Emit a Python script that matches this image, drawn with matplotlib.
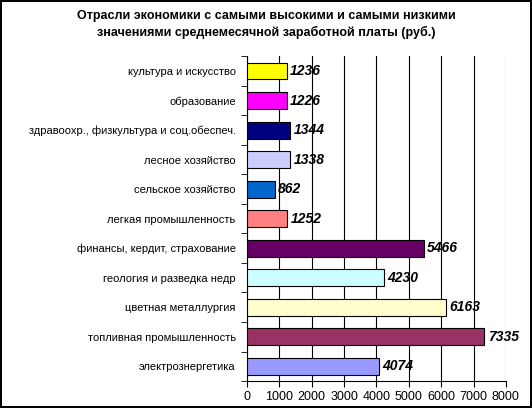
import matplotlib
matplotlib.use("Agg")
import matplotlib.pyplot as plt

categories = [
    "электрознергетика",
    "топливная промышленность",
    "цветная металлургия",
    "геология и разведка недр",
    "финансы, кердит, страхование",
    "легкая промышленность",
    "сельское хозяйство",
    "лесное хозяйство",
    "здравоохр., физкультура и соц.обеспеч.",
    "образование",
    "культура и искусство",
]
values = [4074, 7335, 6163, 4230, 5466, 1252, 862, 1338, 1344, 1226, 1236]
colors = ["#9999FF", "#993366", "#FFFFCC", "#CCFFFF", "#660066", "#FF8080",
          "#0066CC", "#CCCCFF", "#000080", "#FF00FF", "#FFFF00"]
xticks = list(range(0, 8001, 1000))

plt.rcParams["font.family"] = ["Liberation Sans", "DejaVu Sans"]

fig = plt.figure(figsize=(5.32, 4.08), dpi=100)
fig.patch.set_edgecolor("black")
fig.patch.set_linewidth(1.5)
ax = fig.add_axes([0.464, 0.066, 0.487, 0.796])

n = len(categories)
y = range(n)
ax.barh(y, values, height=0.57, color=colors, edgecolor="black", linewidth=0.8, zorder=3)
for i, v in enumerate(values):
    ax.text(v + 100, i, str(v), va="center", ha="left", fontsize=10,
            fontweight="bold", fontstyle="italic", zorder=4)

ax.set_xlim(0, 8000)
ax.set_ylim(-0.5, n - 0.5)
ax.set_xticks(xticks)
ax.set_xticklabels([str(t) for t in xticks], fontsize=9)
ax.set_yticks(list(y))
ax.set_yticklabels(categories, fontsize=8)
ax.set_yticks([i - 0.5 for i in range(n + 1)], minor=True)
ax.tick_params(axis="y", which="major", length=0, pad=8)
ax.tick_params(axis="y", which="minor", length=4)
ax.tick_params(axis="x", length=4)
ax.xaxis.grid(True, color="black", linewidth=0.8, zorder=0)
ax.spines["top"].set_visible(False)
ax.spines["right"].set_visible(False)

fig.text(0.5, 0.975, "Отрасли экономики с самыми высокими и самыми низкими\n"
         "значениями среднемесячной заработной платы (руб.)",
         ha="center", va="top", fontsize=9, fontweight="bold", linespacing=1.4)

fig.savefig("out.png", dpi=100, edgecolor=fig.get_edgecolor())
